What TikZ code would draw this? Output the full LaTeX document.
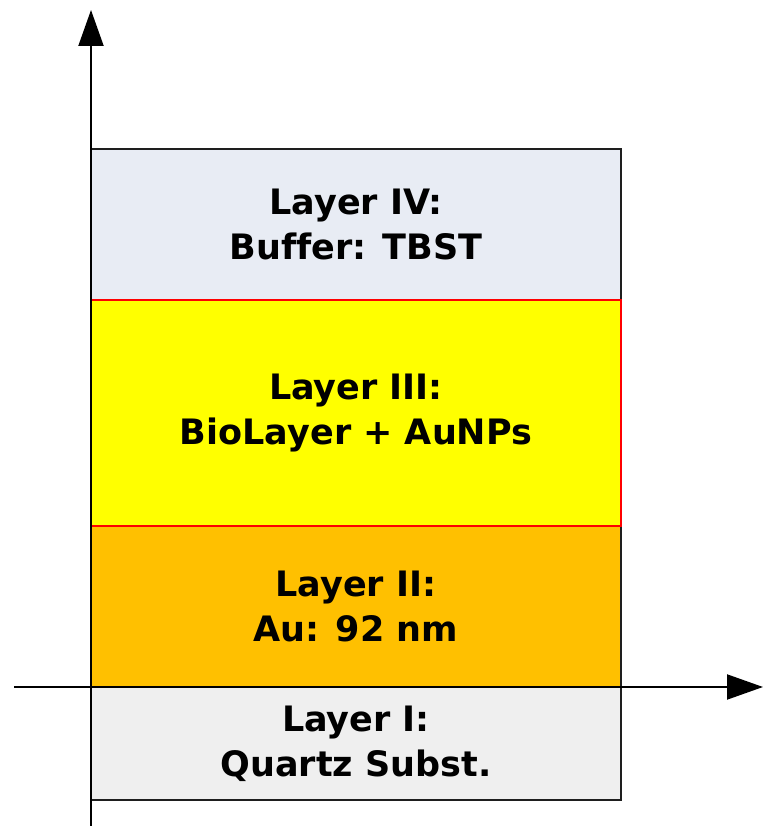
\documentclass[tikz,border=0pt]{standalone}
\usepackage{fontspec}
\setmainfont[Ligatures=NoCommon]{DejaVu Sans}
\usetikzlibrary{arrows.meta}
\definecolor{bufferfill}{RGB}{232,236,244}
\definecolor{bioyellow}{RGB}{255,255,0}
\definecolor{goldfill}{RGB}{255,192,0}
\definecolor{quartzfill}{RGB}{239,239,239}
\definecolor{edgegray}{RGB}{30,30,30}
\begin{document}
\begin{tikzpicture}[x=1pt,y=1pt]

\def\lw{530pt}
\tikzstyle{layer} = [
	draw=edgegray, line width=1.8pt, rectangle, align=center,
	minimum width=\lw, inner sep=0pt,
	font=\bfseries\fontsize{35}{45}\selectfont ];
\tikzstyle{axis} = [black, line width=2pt, -{Triangle[length=36pt,width=25pt]}];
\useasboundingbox (0,0) rectangle (762,826);

\node[layer,fill=quartzfill,minimum height=113pt] (l1) at (356,82.5) {Layer I:\\Quartz Subst.};
\node[layer,fill=goldfill,minimum height=161pt] (l2) at (356,219.5) {Layer II:\\Au: 92 nm};
\node[layer,fill=bufferfill,minimum height=151pt] (l4) at (356,601.5) {Layer IV:\\Buffer: TBST};
\node[layer,fill=bioyellow,draw=red,minimum height=226pt] (l3) at (356,413) {Layer III:\\BioLayer + AuNPs};

\coordinate (ybot) at (91,0);
\coordinate (ytop) at (91,816);
\coordinate (xleft) at (14,139);
\coordinate (xright) at (763,139);
\draw[axis] (ybot) -- (ytop);
\draw[axis] (xleft) -- (xright);

\end{tikzpicture}
\end{document}
